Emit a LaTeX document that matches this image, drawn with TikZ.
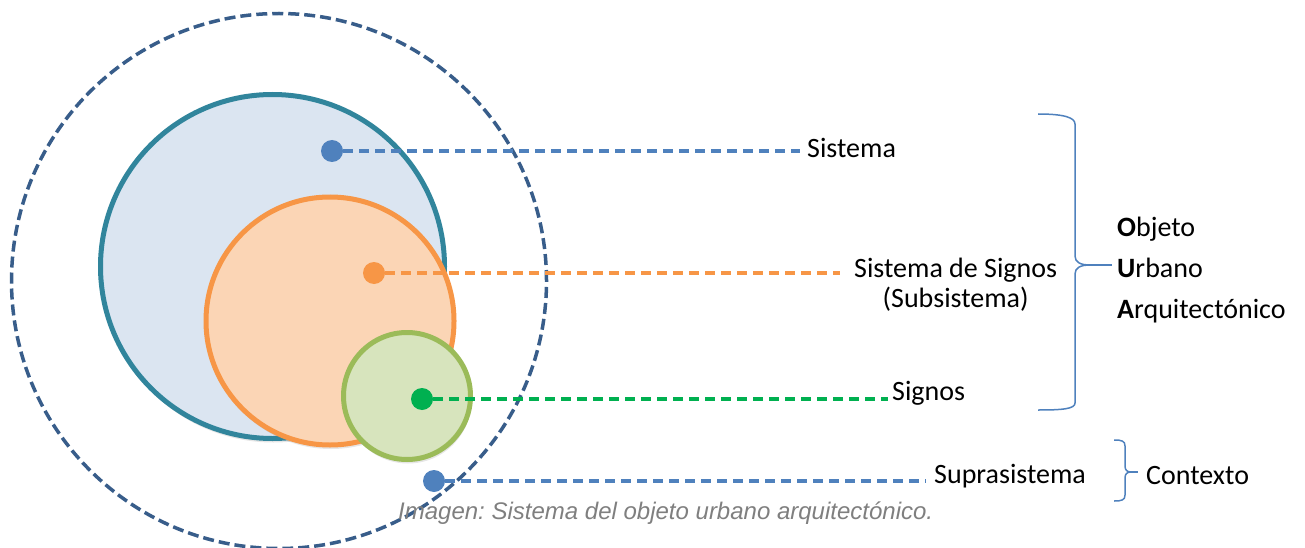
\documentclass[tikz,border=0pt]{standalone}
\usepackage{fontspec}
\setmainfont{Carlito}
\newfontfamily\capfont{Liberation Sans}
\usetikzlibrary{shadows}

\definecolor{outerblue}{HTML}{385D8A}
\definecolor{tealline}{HTML}{31859C}
\definecolor{bluefill}{HTML}{DBE5F1}
\definecolor{orangeline}{HTML}{F79646}
\definecolor{orangefill}{HTML}{FBD5B5}
\definecolor{greenline}{HTML}{9BBB59}
\definecolor{greenfill}{HTML}{D7E4BD}
\definecolor{dotblue}{HTML}{4F81BD}
\definecolor{dotgreen}{HTML}{00B050}
\definecolor{capgray}{HTML}{7F7F7F}

\begin{document}
\begin{tikzpicture}[x=1pt,y=-1pt,
  ring/.style={circle,draw,line width=5pt,inner sep=0pt,
    drop shadow={shadow xshift=1pt,shadow yshift=-4pt,opacity=0.2}},
  dot/.style={circle,inner sep=0pt,minimum size=22pt},
  link/.style={line width=3.5pt,dash pattern=on 10pt off 6pt},
  lbl/.style={font=\fontsize{28}{30}\selectfont,inner ysep=0pt,inner xsep=7pt,anchor=west},
  brace/.style={dotblue,line width=1.5pt}]

\useasboundingbox (0,0) rectangle (1305,548);

% Draw the outer dashed circle (suprasistema)
\node[circle,draw=outerblue,line width=3.5pt,dash pattern=on 11pt off 5pt,
  inner sep=0pt,minimum size=535pt] (supra) at (279,281) {};

% Draw the nested circles
\node[ring,draw=tealline,fill=bluefill,minimum size=344pt] (sistema) at (272.5,266.5) {};
\node[ring,draw=orangeline,fill=orangefill,minimum size=248pt] (subsis) at (330,321) {};
\node[ring,draw=greenline,fill=greenfill,minimum size=127pt] (signos) at (407,396) {};

% Draw the dots
\node[dot,fill=dotblue] (dsis) at (332,151) {};
\node[dot,fill=orangeline] (dsig) at (374,273) {};
\node[dot,fill=dotgreen] (dsgn) at (422,399) {};
\node[dot,fill=dotblue] (dsup) at (434,481) {};

% Labels
\node[lbl] (tsis) at (800,148) {Sistema};
\node[lbl,align=center,inner xsep=14pt] (tsig) at (840,285) {Sistema de Signos\\(Subsistema)};
\node[lbl,inner xsep=4pt] (tsgn) at (888,393) {Signos};
\node[lbl,inner xsep=8pt] (tsup) at (926,476) {Suprasistema};

% Dashed lines from the dots to the labels
\draw[link,dotblue] (dsis.east) -- (dsis.east -| tsis.west);
\draw[link,orangeline] (dsig.east) -- (dsig.east -| tsig.west);
\draw[link,dotgreen] (dsgn.east) -- (dsgn.east -| tsgn.west);
\draw[link,dotblue] (dsup.east) -- (dsup.east -| tsup.west);

% Big brace
\coordinate (btip) at (1112,265);
\node[lbl,font=\fontsize{28}{41}\selectfont,align=left,inner xsep=5pt] (oua) at (1112,270)
  {\textbf{O}bjeto\\\textbf{U}rbano\\\textbf{A}rquitectónico};
\draw[brace] (1038,114) .. controls (1062,114) and (1075,117) .. (1075,124) -- (1075,256)
  .. controls (1075,262) and (1080,265) .. (1090,265)
  .. controls (1080,265) and (1075,268) .. (1075,274) -- (1075,403)
  .. controls (1075,409) and (1062,410) .. (1038,410);
\draw[brace] (1090,265) -- (btip -| oua.west);

% Small brace
\coordinate (ctip) at (1138,472);
\node[lbl,inner xsep=8pt] (tctx) at (1138,476) {Contexto};
\draw[brace] (1114,440) .. controls (1122,440) and (1125,441) .. (1125,446) -- (1125,466)
  .. controls (1125,470) and (1127,472) .. (1131,472)
  .. controls (1127,472) and (1125,474) .. (1125,478) -- (1125,495)
  .. controls (1125,500) and (1122,501) .. (1114,501);
\draw[brace] (1131,472) -- (ctip -| tctx.west);

% Caption
\node[font=\capfont\itshape\frenchspacing\fontsize{24}{28}\selectfont,text=capgray,anchor=west,inner sep=0pt]
  (cap) at (398,513) {Imagen: Sistema del objeto urbano arquitectónico.};

\end{tikzpicture}
\end{document}
